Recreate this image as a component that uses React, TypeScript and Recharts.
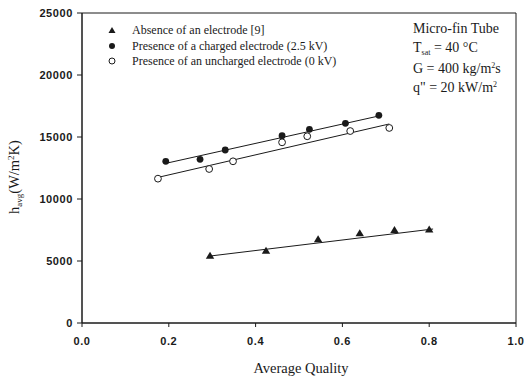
import React from 'react';
import { ScatterChart, Scatter, XAxis, YAxis, ReferenceArea } from 'recharts';

const absenceX = [0.295, 0.424, 0.544, 0.64, 0.72, 0.8];
const absenceY = [5430, 5830, 6750, 7230, 7500, 7550];
const chargedX = [0.193, 0.272, 0.33, 0.461, 0.524, 0.607, 0.684];
const chargedY = [13040, 13200, 13950, 15100, 15620, 16100, 16750];
const unchargedX = [0.175, 0.293, 0.348, 0.461, 0.519, 0.618, 0.708];
const unchargedY = [11640, 12420, 13040, 14570, 15060, 15480, 15730];

const absenceFitX = [0.295, 0.809];
const absenceFitY = [5400, 7580];
const chargedFitX = [0.195, 0.687];
const chargedFitY = [12890, 16720];
const unchargedFitX = [0.176, 0.708];
const unchargedFitY = [11750, 16050];

const xTicks = [0, 0.2, 0.4, 0.6, 0.8, 1.0];
const yTicks = [0, 5000, 10000, 15000, 20000, 25000];

const zip = (xs: number[], ys: number[]) => xs.map((x, i) => ({ x, y: ys[i] }));

const INK = '#1a1a1a';

const Tri = (p: any) => (
  <polygon
    points={`${p.cx},${p.cy - 4} ${p.cx - 4.2},${p.cy + 3} ${p.cx + 4.2},${p.cy + 3}`}
    fill={INK}
  />
);
const Dot = (p: any) => <circle cx={p.cx} cy={p.cy} r={3.4} fill={INK} />;
const Ring = (p: any) => <circle cx={p.cx} cy={p.cy} r={3.4} fill="#fff" stroke={INK} strokeWidth={1} />;
const NoShape = () => <g />;

const tickStyle = {
  fontFamily: 'Liberation Sans, Arial, sans-serif',
  fontSize: 11,
  fontWeight: 'bold' as const,
  letterSpacing: 0.6,
  fill: INK,
};
const serif = 'Liberation Serif, Times New Roman, serif';

export default function App() {
  return (
    <div style={{ position: 'absolute', left: 0, top: 0, width: 524, height: 379, background: '#fff' }}>
      <ScatterChart width={524} height={379} margin={{ top: 13, right: 8, bottom: 26, left: 0 }}>
        <XAxis
          type="number"
          dataKey="x"
          domain={[0, 1]}
          ticks={xTicks}
          tickFormatter={(v: number) => v.toFixed(1)}
          height={30}
          tickSize={4}
          tickMargin={10}
          tick={tickStyle}
          axisLine={{ stroke: INK }}
          tickLine={{ stroke: INK }}
          allowDataOverflow
        />
        <YAxis
          type="number"
          dataKey="y"
          domain={[0, 25000]}
          ticks={yTicks}
          width={82}
          tickSize={5}
          tickMargin={4}
          tick={tickStyle}
          axisLine={{ stroke: INK }}
          tickLine={{ stroke: INK }}
          allowDataOverflow
        />
        <ReferenceArea x1={0} x2={1} y1={0} y2={25000} fill="none" stroke={INK} strokeWidth={1} ifOverflow="visible" />
        <Scatter data={zip(chargedFitX, chargedFitY)} line={{ stroke: INK, strokeWidth: 1 }} shape={NoShape} isAnimationActive={false} />
        <Scatter data={zip(unchargedFitX, unchargedFitY)} line={{ stroke: INK, strokeWidth: 1 }} shape={NoShape} isAnimationActive={false} />
        <Scatter data={zip(absenceFitX, absenceFitY)} line={{ stroke: INK, strokeWidth: 1 }} shape={NoShape} isAnimationActive={false} />
        <Scatter data={zip(absenceX, absenceY)} shape={Tri} isAnimationActive={false} />
        <Scatter data={zip(chargedX, chargedY)} shape={Dot} isAnimationActive={false} />
        <Scatter data={zip(unchargedX, unchargedY)} shape={Ring} isAnimationActive={false} />
      </ScatterChart>
      <svg width={524} height={379} style={{ position: 'absolute', left: 0, top: 0, pointerEvents: 'none' }}>
        <g fontFamily={serif} fontSize={12} fill={INK}>
          <polygon points="112,27 108.5,33 115.5,33" fill={INK} />
          <text x={132} y={34}>Absence of an electrode [9]</text>
          <circle cx={112} cy={46} r={3} fill={INK} />
          <text x={132} y={50}>Presence of a charged electrode (2.5 kV)</text>
          <circle cx={112} cy={61} r={3} fill="#fff" stroke={INK} />
          <text x={132} y={65}>Presence of an uncharged electrode (0 kV)</text>
        </g>
        <g fontFamily={serif} fontSize={14} fill={INK}>
          <text x={413} y={33}>Micro-fin Tube</text>
          <text x={413} y={52}>
            T<tspan fontSize={8} dy={3}>sat</tspan>
            <tspan dy={-3}> = 40 °C</tspan>
          </text>
          <text x={413} y={73}>
            G = 400 kg/m<tspan fontSize={8} dy={-5}>2</tspan>
            <tspan dy={5}>s</tspan>
          </text>
          <text x={413} y={92}>
            q" = 20 kW/m<tspan fontSize={8} dy={-5}>2</tspan>
          </text>
        </g>
        <text x={301} y={373} textAnchor="middle" fontFamily={serif} fontSize={14.5} fill={INK}>
          Average Quality
        </text>
        <text
          transform="translate(19,177) rotate(-90)"
          textAnchor="middle"
          fontFamily={serif}
          fontSize={14.5}
          fill={INK}
        >
          h<tspan fontSize={9} dy={3}>avg</tspan>
          <tspan dy={-3}>(W/m</tspan>
          <tspan fontSize={9} dy={-5}>2</tspan>
          <tspan dy={5}>K)</tspan>
        </text>
      </svg>
    </div>
  );
}
